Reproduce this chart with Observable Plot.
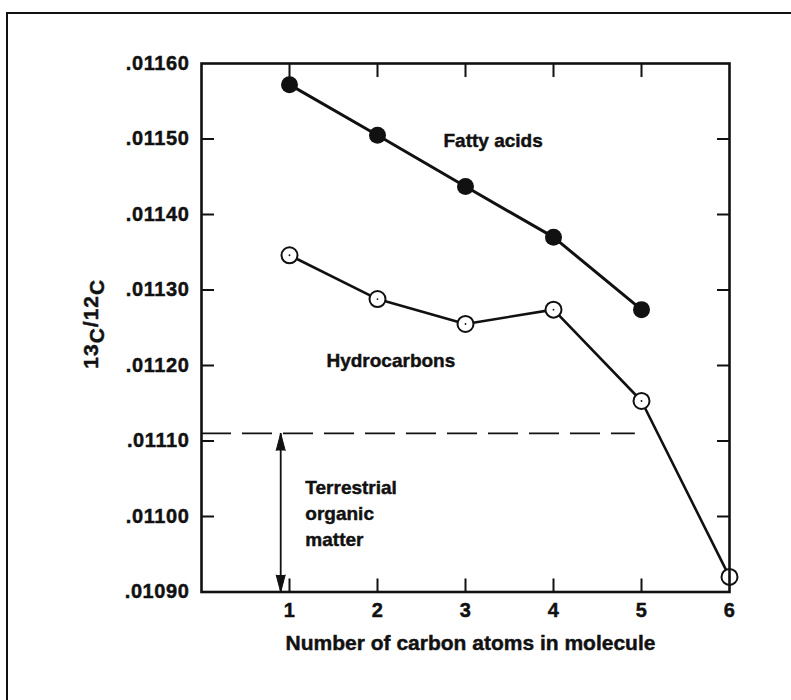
<!DOCTYPE html>
<html>
<head>
<meta charset="utf-8">
<script src="https://cdn.jsdelivr.net/npm/d3@7"></script>
<script src="https://cdn.jsdelivr.net/npm/@observablehq/plot@0.6"></script>
<style>
  html, body { margin: 0; padding: 0; background: #fff; overflow: hidden; }
  #wrap { position: relative; width: 791px; height: 700px; overflow: hidden; }
  #border { position: absolute; left: 6px; top: 12px; width: 830px; height: 730px;
            border-left: 2px solid #111; border-top: 2px solid #111; pointer-events: none; }
  #wrap svg text { stroke: #111; stroke-width: 0.45px; paint-order: stroke; }
  g[aria-label="y-axis tick label"] text, g[aria-label="x-axis tick label"] text { letter-spacing: 0.6px; }
</style>
</head>
<body>
<div id="wrap"><div id="border"></div></div>
<script>
// ---- data ----
const carbonAtoms = [1, 2, 3, 4, 5, 6];
const fattyAcids = [0.011572, 0.011505, 0.011437, 0.011370, 0.011274];
const hydrocarbons = [0.011346, 0.011288, 0.011255, 0.011274, 0.011153, 0.010920];

const yTickValues = [0.0109, 0.0110, 0.0111, 0.0112, 0.0113, 0.0114, 0.0115, 0.0116];
const yTickLabels = [".01090", ".01100", ".01110", ".01120", ".01130", ".01140", ".01150", ".01160"];
const xTickValues = [1, 2, 3, 4, 5, 6];
const xTickLabels = ["1", "2", "3", "4", "5", "6"];

const terrestrialLevel = 0.01111;
const terrestrialLineEnd = 4.93;
const terrestrialArrowX = 0.9;

const annotationTexts = ["Fatty acids", "Hydrocarbons", "Terrestrial\norganic\nmatter"];
const annotationX = [2.75, 1.42, 1.18];
const annotationY = [0.011514, 0.011222, 0.011054];

const xLabel = "Number of carbon atoms in molecule";
const yLabelParts = ["13", "C", "/", "12", "C"];

// ---- derived tables ----
const fatty = fattyAcids.map((v, i) => ({x: carbonAtoms[i], y: v}));
const hydro = hydrocarbons.map((v, i) => ({x: carbonAtoms[i], y: v}));
const innerY = yTickValues.slice(1, -1);
const innerX = xTickValues.slice(0, -1);
const annotations = annotationTexts.map((t, i) => ({text: t, x: annotationX[i], y: annotationY[i]}));
const arrowHeads = [
  {x: terrestrialArrowX, y: terrestrialLevel, dir: 0},
  {x: terrestrialArrowX, y: yTickValues[0], dir: 180}
];
const font = "'Liberation Sans', Arial, Helvetica, sans-serif";
const ink = "#111";

const chart = Plot.plot({
  width: 791,
  height: 700,
  marginLeft: 201,
  marginRight: 62,
  marginTop: 63,
  marginBottom: 108.5,
  x: {domain: [0, 6]},
  y: {domain: [yTickValues[0], yTickValues[yTickValues.length - 1]]},
  style: {fontFamily: font, fontSize: "19px", fontWeight: "bold", color: ink, background: "transparent"},
  marks: [
    Plot.ruleY([terrestrialLevel], {x1: 0, x2: terrestrialLineEnd, stroke: ink, strokeWidth: 1.8, strokeDasharray: "30,11"}),
    Plot.ruleX([terrestrialArrowX], {y1: yTickValues[0], y2: terrestrialLevel, stroke: ink, strokeWidth: 1.8}),
    Plot.vector(arrowHeads, {x: "x", y: "y", rotate: "dir", length: 17, r: 4.5, shape: "spike", anchor: "end", fill: ink, stroke: ink, strokeWidth: 1}),
    Plot.line(hydro, {x: "x", y: "y", stroke: ink, strokeWidth: 2.6}),
    Plot.line(fatty, {x: "x", y: "y", stroke: ink, strokeWidth: 3}),
    Plot.dot(fatty, {x: "x", y: "y", r: 8.5, fill: ink, stroke: null}),
    Plot.dot(hydro, {x: "x", y: "y", r: 8, fill: "white", stroke: ink, strokeWidth: 2}),
    Plot.dot(hydro, {x: "x", y: "y", r: 0.9, fill: ink, stroke: null}),
    Plot.frame({stroke: ink, strokeWidth: 2.6}),
    // tick labels
    Plot.axisY(yTickValues, {anchor: "left", tickSize: 0, tickPadding: 12, label: null,
      tickFormat: d => yTickLabels[yTickValues.indexOf(d)], fontSize: 20}),
    Plot.axisX(xTickValues, {anchor: "bottom", tickSize: 0, tickPadding: 11, label: null,
      tickFormat: d => xTickLabels[xTickValues.indexOf(d)], fontSize: 20}),
    // inward ticks
    Plot.axisY(innerY, {anchor: "left", tickSize: 13, insetLeft: 13, tickFormat: () => "", label: null, strokeWidth: 2}),
    Plot.axisY(innerY, {anchor: "right", tickSize: 13, insetRight: 13, tickFormat: () => "", label: null, strokeWidth: 2}),
    Plot.axisX(innerX, {anchor: "bottom", tickSize: 13, insetBottom: 13, tickFormat: () => "", label: null, strokeWidth: 2}),
    Plot.axisX(innerX, {anchor: "top", tickSize: 13, insetTop: 13, tickFormat: () => "", label: null, strokeWidth: 2}),
    // annotations
    Plot.text(annotations, {x: "x", y: "y", text: "text", textAnchor: "start", lineAnchor: "top", lineHeight: 1.37, fontSize: 19}),
    // axis titles
    Plot.text([xLabel], {frameAnchor: "bottom", text: d => d, dy: 43.5, dx: 5, lineAnchor: "top", fontSize: 21}),
    Plot.text([yLabelParts.join("")], {frameAnchor: "left", text: d => d, dx: -110, dy: -4, rotate: -90,
      textAnchor: "middle", lineAnchor: "middle", fontSize: 21})
  ]
});

document.getElementById("wrap").appendChild(chart);

// typeset the y-axis title: isotope numbers on the line, the C's lowered
const joined = yLabelParts.join("");
d3.select(chart).selectAll("text").filter(function () { return this.textContent === joined; })
  .each(function () {
    const t = d3.select(this);
    t.text(null);
    yLabelParts.forEach((p, i) => {
      const prevLow = i > 0 && yLabelParts[i - 1] === "C";
      const low = p === "C";
      const sp = t.append("tspan").text(p);
      if (low) sp.attr("dy", "0.27em");
      else if (prevLow) sp.attr("dy", "-0.27em");
    });
    t.style("letter-spacing", "1px");
  });
</script>
</body>
</html>
